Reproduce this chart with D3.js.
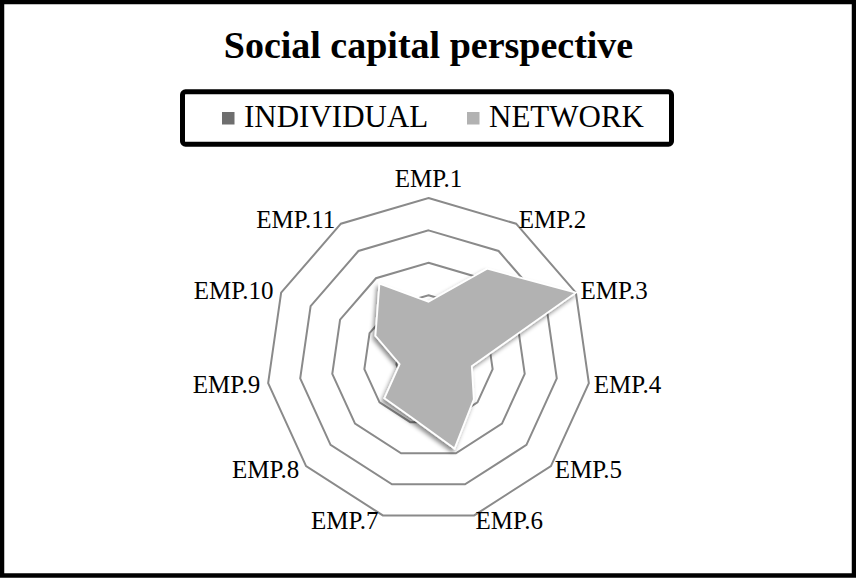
<!DOCTYPE html>
<meta charset="utf-8">
<style>
  body { margin: 0; background: #fff; }
  svg text { font-family: "Liberation Serif", "Times New Roman", serif; fill: #000; }
</style>
<script src="https://d3js.org/d3.v7.min.js"></script>
<svg id="chart" width="856" height="578"></svg>
<script>

  // data (scale 0..5, rings every 1)
  var categories = ["EMP.1", "EMP.2", "EMP.3", "EMP.4", "EMP.5", "EMP.6",
                    "EMP.7", "EMP.8", "EMP.9", "EMP.10", "EMP.11"];
  // individual is drawn first and sits fully behind network
  var individual = [0.7, 0.8, 0.8, 0.6, 0.7, 0.8, 0.7, 0.6, 0.5, 0.6, 0.7];
  var network = [1.8, 3.35, 5.0, 1.35, 1.85, 2.85, 1.85, 1.8, 0.9, 1.8, 2.8];
  var ringTicks = [1, 2, 3, 4, 5];
  var seriesNames = ["INDIVIDUAL", "NETWORK"];
  var seriesColors = ["#6e6e6e", "#b2b2b2"];

  var width = 856, height = 578;
  var cx = 428.5, cy = 360, R = 162;

  var svg = d3.select("#chart");

  var r = d3.scaleLinear().domain([0, 5]).range([0, R]);
  var angle = d3.scaleLinear().domain([0, categories.length]).range([0, 2 * Math.PI]);

  // drop shadow for the series polygons
  var defs = svg.append("defs");
  var f = defs.append("filter").attr("id", "shadow")
    .attr("x", "-20%").attr("y", "-20%").attr("width", "140%").attr("height", "140%");
  f.append("feDropShadow")
    .attr("dx", -2).attr("dy", 3).attr("stdDeviation", 2.2)
    .attr("flood-color", "#000").attr("flood-opacity", 0.45);

  // outer frame
  svg.append("rect")
    .attr("x", 2).attr("y", 2)
    .attr("width", width - 4).attr("height", height - 4.5)
    .attr("fill", "#fff").attr("stroke", "#000").attr("stroke-width", 4.5);

  // title
  svg.append("text")
    .attr("x", cx).attr("y", 58)
    .attr("text-anchor", "middle")
    .style("font-size", "38px").style("font-weight", "bold")
    .text("Social capital perspective");

  // legend
  var legend = svg.append("g");
  legend.append("rect")
    .attr("x", 182.5).attr("y", 91.8)
    .attr("width", 489).attr("height", 52.4)
    .attr("rx", 3)
    .attr("fill", "#fff").attr("stroke", "#000").attr("stroke-width", 5);
  var legendX = [222, 467];
  seriesNames.forEach(function(name, i) {
    legend.append("rect")
      .attr("x", legendX[i]).attr("y", 112)
      .attr("width", 12.5).attr("height", 12.5)
      .attr("fill", seriesColors[i]);
    legend.append("text")
      .attr("x", legendX[i] + 22).attr("y", 127)
      .style("font-size", "31px")
      .text(name);
  });

  var plot = svg.append("g").attr("transform", "translate(" + cx + "," + cy + ")");

  // grid rings
  var ringLine = d3.lineRadial()
    .angle(function(d, i) { return angle(i); })
    .curve(d3.curveLinearClosed);

  plot.selectAll(".ring").data(ringTicks).enter().append("path")
    .attr("class", "ring")
    .attr("d", function(t) { return ringLine.radius(r(t))(categories); })
    .attr("fill", "none")
    .attr("stroke", "#8a8a8a")
    .attr("stroke-width", 2);

  // series
  var seriesLine = d3.lineRadial()
    .angle(function(d, i) { return angle(i); })
    .radius(function(d) { return r(d); })
    .curve(d3.curveLinearClosed);

  plot.selectAll(".series").data([individual, network]).enter().append("path")
    .attr("class", "series")
    .attr("d", seriesLine)
    .attr("fill", function(d, i) { return seriesColors[i]; })
    .attr("stroke", "#fff")
    .attr("stroke-width", 1.8)
    .attr("stroke-linejoin", "miter")
    .attr("filter", "url(#shadow)");

  // axis labels
  plot.selectAll(".label").data(categories).enter().append("text")
    .attr("class", "label")
    .attr("x", function(d, i) {
      var s = Math.sin(angle(i));
      return s * (R + 5) + (s < -0.1 ? -3 : 0);
    })
    .attr("y", function(d, i) {
      var y = -Math.cos(angle(i)) * (R + 5);
      if (Math.abs(Math.sin(angle(i))) < 0.1) y -= 15;
      return y;
    })
    .attr("dy", "0.35em")
    .attr("text-anchor", function(d, i) {
      var s = Math.sin(angle(i));
      return s > 0.1 ? "start" : (s < -0.1 ? "end" : "middle");
    })
    .style("font-size", "25px")
    .text(function(d) { return d; });

</script>
